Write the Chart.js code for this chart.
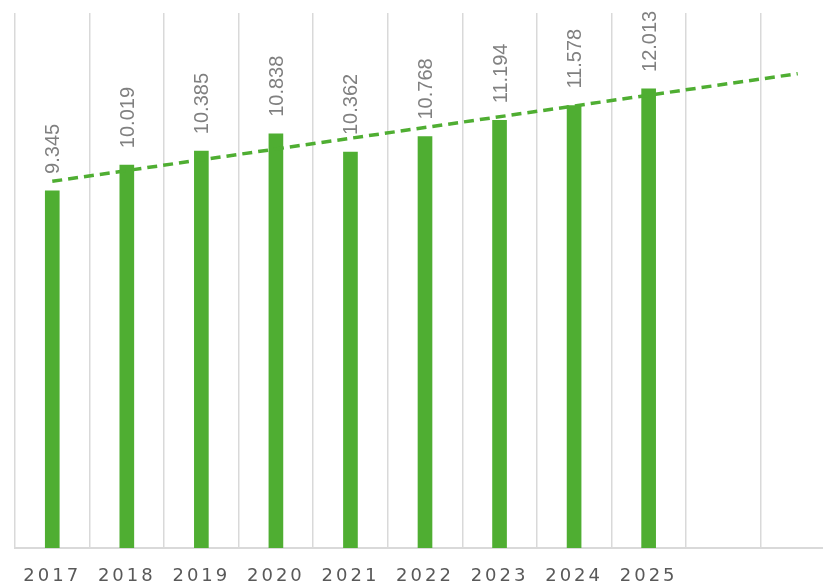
<!DOCTYPE html>
<html>
<head>
<meta charset="utf-8">
<title>Chart</title>
<script src="https://cdn.jsdelivr.net/npm/chart.js@4/dist/chart.umd.min.js"></script>
<style>
  html, body { margin: 0; padding: 0; background: #fff; overflow: hidden; }
  #wrap { width: 823px; height: 586px; overflow: hidden; }
  #box { width: 835px; height: 586px; }
</style>
</head>
<body>
<div id="wrap"><div id="box"><canvas id="chart"></canvas></div></div>
<script>
// Years on the axis, two empty slots left for the forecast part of the trend
const years = ["2017", "2018", "2019", "2020", "2021", "2022", "2023", "2024", "2025", "", ""];
const values = [9.345, 10.019, 10.385, 10.838, 10.362, 10.768, 11.194, 11.578, 12.013];
// Linear trend, start and end points (forward forecast of two periods)
const trendValues = [9.596, null, null, null, null, null, null, null, null, null, 12.412];

const green = "#4fae32";

// Rotated value labels above each bar
const valueLabels = {
  id: "valueLabels",
  afterDatasetsDraw(chart) {
    const ctx = chart.ctx;
    const meta = chart.getDatasetMeta(0);
    ctx.save();
    ctx.letterSpacing = "0px";
    ctx.fillStyle = "#808080";
    ctx.font = "20px 'Liberation Sans', sans-serif";
    ctx.textAlign = "left";
    ctx.textBaseline = "middle";
    meta.data.forEach((bar, i) => {
      ctx.save();
      ctx.translate(bar.x + 1.5, bar.y - 17);
      ctx.rotate(-Math.PI / 2);
      ctx.fillText(values[i].toFixed(3), 0, 0);
      ctx.restore();
    });
    ctx.restore();
  }
};

// Wider spacing for the year labels
const spacedTicks = {
  id: "spacedTicks",
  beforeDraw(chart) {
    chart.ctx.letterSpacing = "3px";
  }
};

new Chart(document.getElementById("chart"), {
  type: "bar",
  data: {
    labels: years,
    datasets: [
      {
        type: "bar",
        data: values,
        backgroundColor: green,
        barThickness: 14,
        order: 1
      },
      {
        type: "line",
        data: trendValues,
        borderColor: green,
        borderWidth: 3.5,
        borderDash: [10, 6],
        pointRadius: 0,
        spanGaps: true,
        fill: false,
        order: 0
      }
    ]
  },
  options: {
    responsive: true,
    maintainAspectRatio: false,
    animation: false,
    layout: { padding: { left: 15, top: 13, right: 0, bottom: 0 } },
    plugins: {
      legend: { display: false },
      tooltip: { enabled: false }
    },
    scales: {
      x: {
        grid: { color: "#d9d9d9", lineWidth: 1.5, offset: true, drawTicks: false },
        border: { color: "#d9d9d9", width: 2 },
        ticks: {
          color: "#595959",
          font: { family: "'DejaVu Sans', sans-serif", size: 18 },
          padding: 18,
          maxRotation: 0,
          autoSkip: false
        },
        afterFit: (scale) => { scale.height = 38; }
      },
      y: {
        display: false,
        min: 0,
        max: 14
      }
    }
  },
  plugins: [spacedTicks, valueLabels]
});
</script>
</body>
</html>
